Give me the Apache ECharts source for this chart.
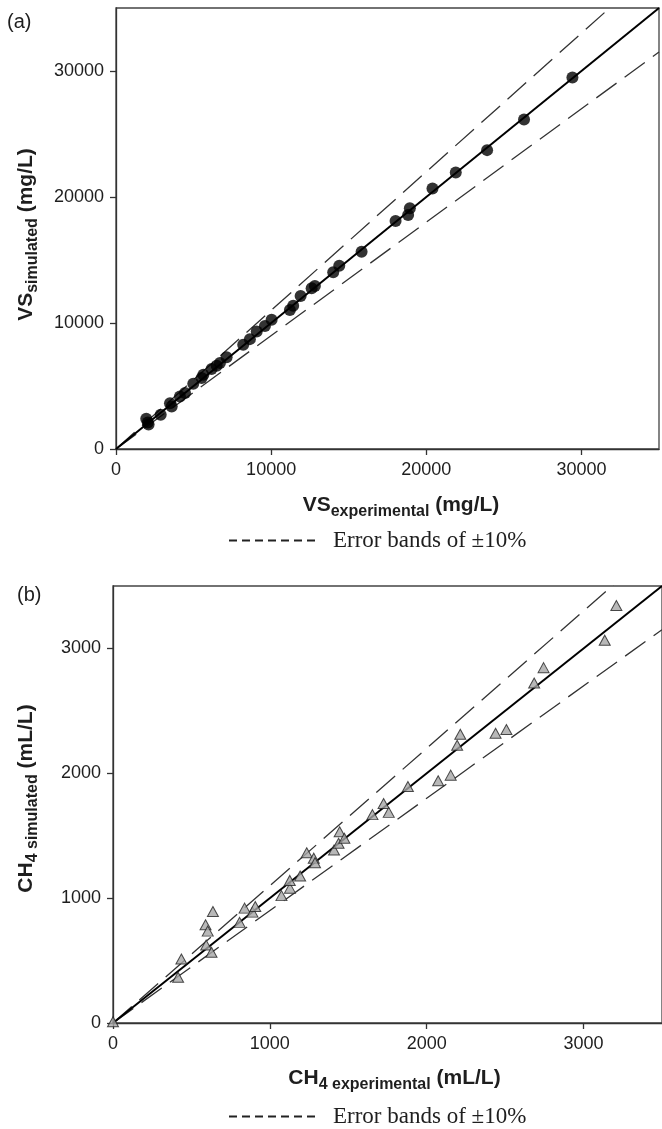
<!DOCTYPE html>
<html>
<head>
<meta charset="utf-8">
<script src="https://cdn.jsdelivr.net/npm/echarts@6/dist/echarts.min.js"></script>
<style>
  html, body { margin: 0; padding: 0; background: #ffffff; }
  #chart { width: 662px; height: 1129px; }
</style>
</head>
<body>
<div id="chart"></div>
<script>
// (a) Volatile solids, mg/L
const vsExperimental = [1950, 2050, 2100, 2880, 3480, 3590, 4120, 4450, 4980, 5520, 5630, 6160, 6490, 6700, 7130, 8200, 8630, 9070, 9600, 10030, 11210, 11420, 11900, 12610, 12820, 14000, 14390, 15830, 18020, 18830, 18940, 20400, 21900, 23920, 26300, 29420];
const vsSimulated    = [2400, 2100, 1950, 2720, 3640, 3380, 4170, 4440, 5170, 5630, 5890, 6340, 6600, 6820, 7290, 8270, 8720, 9320, 9770, 10250, 11040, 11360, 12150, 12760, 12940, 14030, 14550, 15660, 18090, 18570, 19100, 20680, 21950, 23720, 26150, 29480];
const vsTicks = [0, 10000, 20000, 30000];
const vsMax = 35000;

// (b) Methane, mL/L
const ch4Experimental = [0, 415, 436, 594, 628, 590, 604, 637, 807, 839, 889, 907, 1074, 1128, 1127, 1193, 1235, 1280, 1288, 1409, 1438, 1445, 1475, 1654, 1725, 1758, 1880, 2073, 2153, 2194, 2214, 2439, 2508, 2685, 2745, 3135, 3209];
const ch4Simulated    = [10, 367, 512, 624, 567, 787, 736, 893, 806, 920, 888, 933, 1020, 1080, 1142, 1177, 1364, 1320, 1284, 1386, 1440, 1532, 1480, 1669, 1758, 1687, 1894, 1940, 1985, 2225, 2312, 2320, 2351, 2723, 2846, 3066, 3344];
const ch4Ticks = [0, 1000, 2000, 3000];
const ch4Max = 3500;

// ±10% band multipliers around the 1:1 line
const bandFactors = [1.1, 0.9];
const bandName = 'Error bands of \u00b110%';

const SANS = '"Liberation Sans", Arial, Helvetica, sans-serif';
const SERIF = '"Liberation Serif", "Times New Roman", serif';
const INK = '#1e1e1e';
const CLEAR = 'rgba(0,0,0,0)';

function zip(xs, ys) { return xs.map((x, i) => [x, ys[i]]); }

function nameRich() {
  return {
    m: { fontFamily: SANS, fontSize: 21, fontWeight: 'bold', color: INK, lineHeight: 30 },
    s: { fontFamily: SANS, fontSize: 16, fontWeight: 'bold', color: INK, lineHeight: 14, verticalAlign: 'bottom' }
  };
}

function valueAxis(gridIndex, max, ticks, name, nameGap, padding, vertical) {
  return {
    type: 'value', gridIndex: gridIndex, min: 0, max: max,
    name: name, nameLocation: 'middle', nameGap: nameGap,
    nameRotate: vertical ? 90 : 0, nameMoveOverlap: false,
    nameTextStyle: { padding: padding, rich: nameRich() },
    splitLine: { show: false },
    axisLine: { show: true, onZero: false, lineStyle: { color: '#333', width: 1.3 } },
    axisTick: { show: true, inside: false, length: 6, customValues: ticks, lineStyle: { color: '#333', width: 1.3 } },
    axisLabel: { customValues: ticks, margin: 12, fontFamily: SANS, fontSize: 18, color: INK,
                 formatter: v => String(v) }
  };
}

function bandSeries(axisIndex, max) {
  return bandFactors.map(f => ({
    type: 'line', name: bandName, xAxisIndex: axisIndex, yAxisIndex: axisIndex,
    data: [[0, 0], [max, max * f]], symbol: 'none', silent: true, clip: true,
    itemStyle: { color: '#333' },
    lineStyle: { color: '#333', width: 1.3, type: [25, 10] }, z: 2
  }));
}

function equalityLine(axisIndex, max) {
  return {
    type: 'line', name: '1:1', xAxisIndex: axisIndex, yAxisIndex: axisIndex,
    data: [[0, 0], [max, max]], symbol: 'none', silent: true, clip: true,
    itemStyle: { color: '#000' },
    lineStyle: { color: '#000', width: 2 }, z: 3
  };
}

// Dashed key placed under each panel
function bandLegend(top) {
  return {
    data: [bandName], left: 228, top: top, orient: 'horizontal', padding: 0,
    itemWidth: 88, itemHeight: 24, selectedMode: false,
    itemStyle: { color: CLEAR, borderColor: CLEAR, borderWidth: 0, opacity: 0 },
    lineStyle: { type: [8, 5], width: 2, color: '#222', opacity: 1 },
    textStyle: { fontFamily: SERIF, fontSize: 23, color: INK, padding: [0, 0, 0, 11] }
  };
}

const chart = echarts.init(document.getElementById('chart'), null, { renderer: 'canvas' });

chart.setOption({
  backgroundColor: '#ffffff',
  animation: false,
  title: [
    { text: '(a)', left: 7, top: 12, padding: 0,
      textStyle: { fontFamily: SANS, fontSize: 20, fontWeight: 'normal', color: INK } },
    { text: '(b)', left: 17, top: 585, padding: 0,
      textStyle: { fontFamily: SANS, fontSize: 20, fontWeight: 'normal', color: INK } }
  ],
  legend: [bandLegend(529), bandLegend(1105)],
  grid: [
    { left: 116, top: 8, width: 543, height: 441, show: true, borderColor: '#444', borderWidth: 1.3 },
    { left: 113, top: 586, width: 552, height: 437, show: true, borderColor: '#444', borderWidth: 1.3 }
  ],
  xAxis: [
    valueAxis(0, vsMax, vsTicks, '{m|VS}{s|experimental}{m| (mg/L)}', 41, [0, 0, 0, 27], false),
    valueAxis(1, ch4Max, ch4Ticks, '{m|CH}{s|4 experimental}{m| (mL/L)}', 40, [0, 0, 0, 14], false)
  ],
  yAxis: [
    valueAxis(0, vsMax, vsTicks, '{m|VS}{s|simulated}{m| (mg/L)}', 75, [0, 12, 0, 0], true),
    valueAxis(1, ch4Max, ch4Ticks, '{m|CH}{s|4 simulated}{m| (mL/L)}', 72, [0, 0, 0, 12], true)
  ],
  series: [
    ...bandSeries(0, vsMax),
    equalityLine(0, vsMax),
    {
      type: 'scatter', name: 'VS', xAxisIndex: 0, yAxisIndex: 0,
      data: zip(vsExperimental, vsSimulated),
      symbol: 'circle', symbolSize: 12,
      itemStyle: { color: '#000' }, z: 5
    },
    ...bandSeries(1, ch4Max),
    equalityLine(1, ch4Max),
    {
      type: 'scatter', name: 'CH4', xAxisIndex: 1, yAxisIndex: 1,
      data: zip(ch4Experimental, ch4Simulated),
      symbol: 'triangle', symbolSize: [11, 10],
      itemStyle: { color: '#a6a6a6', borderColor: '#222', borderWidth: 1 }, z: 5
    }
  ]
});
</script>
</body>
</html>
